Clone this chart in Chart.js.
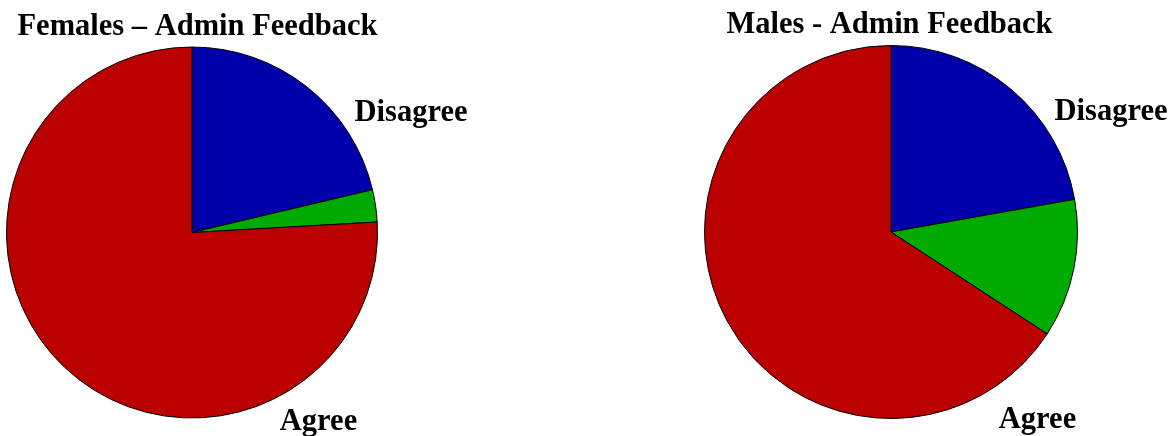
<!DOCTYPE html>
<html>
<head>
<meta charset="utf-8">
<script src="https://cdn.jsdelivr.net/npm/chart.js@4.4.0/dist/chart.umd.min.js"></script>
<style>
    html, body { margin: 0; padding: 0; background: #fff; }
    .stage { position: relative; width: 1171px; height: 436px; overflow: hidden; }
    .stage canvas { position: absolute; left: 0; top: 0; }
</style>
</head>
<body>
<div class="stage">
    <canvas id="females-chart" width="1171" height="436"></canvas>
    <canvas id="males-chart" width="1171" height="436"></canvas>
</div>
<script>
// data (percent of respondents)
const categories = ['Disagree', 'Neutral', 'Agree'];
const femaleValues = [21.3, 2.8, 75.9];
const maleValues = [22.2, 12.0, 65.8];
const shownLabels = ['Disagree', 'Agree'];
const chartTitles = ['Females \u2013 Admin Feedback', 'Males - Admin Feedback'];

const sliceColors = ['rgb(0, 0, 170)', 'rgb(0, 170, 0)', 'rgb(187, 0, 0)'];
const FONT = 'bold 30.5px "Liberation Serif", "Times New Roman", serif';

// draws the title and the two outside labels at fixed spots
const textPlugin = {
    id: 'pieText',
    afterDraw(chart, args, opts) {
        const ctx = chart.ctx;
        ctx.save();
        ctx.font = FONT;
        ctx.fillStyle = '#000';
        ctx.textAlign = 'center';
        ctx.textBaseline = 'alphabetic';
        ctx.fillText(opts.title, opts.titlePos[0], opts.titlePos[1]);
        shownLabels.forEach(name => {
            const pos = opts.labelPos[name];
            if (pos) ctx.fillText(name, pos[0], pos[1]);
        });
        ctx.restore();
    }
};

function makePie(id, values, title, padding, titlePos, labelPos) {
    return new Chart(document.getElementById(id), {
        type: 'pie',
        data: {
            labels: categories,
            datasets: [{
                data: values,
                backgroundColor: sliceColors,
                borderColor: '#000',
                borderWidth: 1,
                hoverBorderWidth: 1,
                hoverOffset: 0
            }]
        },
        options: {
            responsive: false,
            animation: false,
            layout: { padding },
            plugins: {
                legend: { display: false },
                tooltip: { enabled: false },
                title: { display: false },
                pieText: { title, titlePos, labelPos }
            }
        },
        plugins: [textPlugin]
    });
}

makePie('females-chart', femaleValues, chartTitles[0],
    { left: 6, right: 793, top: 46, bottom: 17 },
    [197.5, 35],
    { Disagree: [411, 121], Agree: [318.5, 430] });

makePie('males-chart', maleValues, chartTitles[1],
    { left: 704, right: 93, top: 45, bottom: 17 },
    [889.5, 33],
    { Disagree: [1111, 120], Agree: [1037.5, 428] });
</script>
</body>
</html>
